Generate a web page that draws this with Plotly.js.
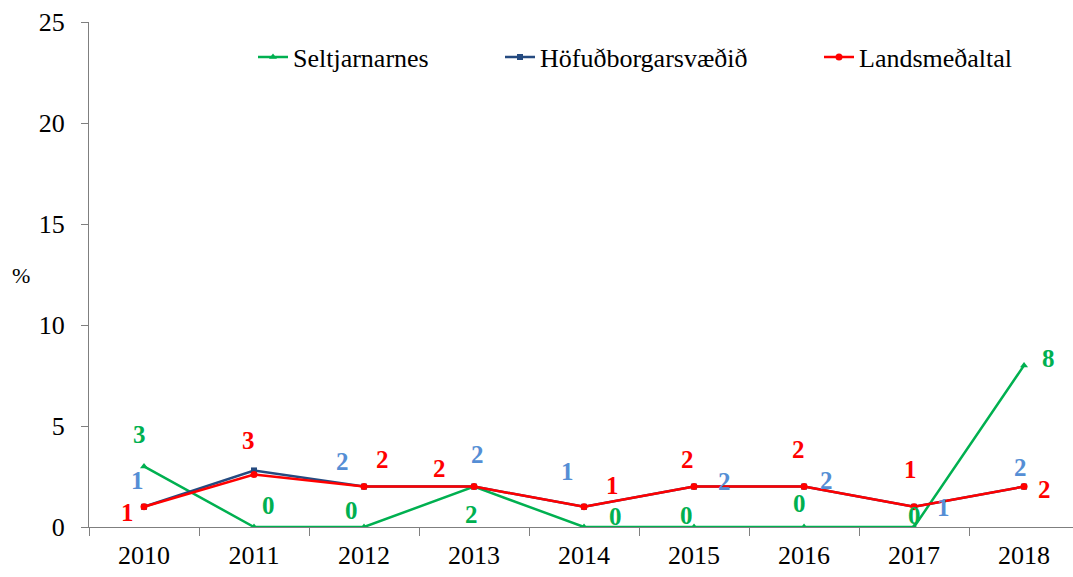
<!DOCTYPE html>
<html>
<head>
<meta charset="utf-8">
<script src="https://cdn.plot.ly/plotly-3.0.1.min.js"></script>
<style>html,body{margin:0;padding:0;background:#fff;}#chart{width:1073px;height:577px;}</style>
</head>
<body>
<div id="chart"></div>
<script>
// ---- data ----
const years = ['2010','2011','2012','2013','2014','2015','2016','2017','2018'];
const seltjarnarnes = [3, 0, 0, 2, 0, 0, 0, 0, 8];
const hofudborgarsvaedid = [1, 2.8, 2, 2, 1, 2, 2, 1, 2];
const landsmedaltal = [1, 2.6, 2, 2, 1, 2, 2, 1, 2];
const seltLabels = ['3','0','0','2','0','0','0','0','8'];
// the 2011 label of Höfuðborgarsvæðið is hidden behind Landsmeðaltal's label in the reference
const hofLabels = ['1','','2','2','1','2','2','1','2'];
const landsLabels = ['1','3','2','2','1','2','2','1','2'];
const seriesNames = ['Seltjarnarnes', 'Höfuðborgarsvæðið', 'Landsmeðaltal'];

// ---- label offsets (px) ----
const seltOff = [[-5,-32],[14,-22],[-13,-17],[-3,28],[31,-11],[-8,-12],[-5,-24],[0,-12],[24,-7]];
const hofOff  = [[-7,-26],[-6,-34],[-22,-25],[3,-32],[-17,-35],[30,-5],[22,-6],[29,1],[-4,-19]];
const landsOff= [[-17,6],[-6,-34],[18,-27],[-35,-18],[28,-21],[-7,-27],[-6,-37],[-4,-37],[20,3]];

const GREEN = '#00B050', NAVY = '#254A80', RED = '#FF0000', LBLUE = '#558ED5';
const FONT = 'Liberation Serif';

const traces = [
  {x: years, y: seltjarnarnes, name: seriesNames[0], type: 'scatter', mode: 'lines+markers',
   line: {color: GREEN, width: 2.5}, marker: {symbol: 'triangle-up', size: 7, color: GREEN}, legend: 'legend'},
  {x: years, y: hofudborgarsvaedid, name: seriesNames[1], type: 'scatter', mode: 'lines+markers',
   line: {color: NAVY, width: 2.5}, marker: {symbol: 'square', size: 6, color: NAVY}, legend: 'legend2'},
  {x: years, y: landsmedaltal, name: seriesNames[2], type: 'scatter', mode: 'lines+markers',
   line: {color: RED, width: 2.5}, marker: {symbol: 'circle', size: 7, color: RED}, legend: 'legend3'}
];

const annotations = [];
function addLabels(vals, labels, offs, color) {
  vals.forEach((v, i) => {
    if (!labels[i]) return;
    annotations.push({x: i, y: v, xref: 'x', yref: 'y', text: labels[i], showarrow: false,
      xanchor: 'center', yanchor: 'middle',
      xshift: offs[i][0], yshift: -offs[i][1],
      font: {family: FONT, size: 25, color: color, weight: 'bold'}});
  });
}
addLabels(seltjarnarnes, seltLabels, seltOff, GREEN);
addLabels(hofudborgarsvaedid, hofLabels, hofOff, LBLUE);
addLabels(landsmedaltal, landsLabels, landsOff, RED);
annotations.push({xref: 'paper', yref: 'paper', x: (21-89)/984, y: (527-275)/505, text: '%', showarrow: false,
  xanchor: 'center', yanchor: 'middle',
  font: {family: FONT, size: 22, color: '#000'}});

const legBase = {orientation: 'h', yanchor: 'middle', xanchor: 'left', y: (527-57)/505,
  font: {family: FONT, size: 26, color: '#000'}, bgcolor: 'rgba(0,0,0,0)', borderwidth: 0};

const layout = {
  width: 1073, height: 577,
  margin: {l: 89, r: 0, t: 22, b: 50, pad: 0},
  paper_bgcolor: '#fff', plot_bgcolor: '#fff',
  font: {family: FONT, size: 26, color: '#000'},
  showlegend: true,
  legend: Object.assign({}, legBase, {x: (253-89)/984}),
  legend2: Object.assign({}, legBase, {x: (500-89)/984}),
  legend3: Object.assign({}, legBase, {x: (819-89)/984}),
  xaxis: {type: 'category', range: [-0.5, 8.445], showgrid: false, zeroline: false,
    showline: true, linecolor: '#7f7f7f', linewidth: 1,
    ticks: 'outside', tickson: 'boundaries', ticklen: 8, tickcolor: '#7f7f7f',
    tickfont: {family: FONT, size: 26, color: '#000'}, ticklabelstandoff: 5, fixedrange: true},
  yaxis: {range: [0, 25], dtick: 5, tick0: 0, showgrid: false, zeroline: false,
    showline: true, linecolor: '#7f7f7f', linewidth: 1,
    ticks: 'outside', ticklen: 7, tickcolor: '#7f7f7f',
    tickfont: {family: FONT, size: 26, color: '#000'}, ticklabelstandoff: 11, fixedrange: true},
  annotations: annotations
};

Plotly.newPlot('chart', traces, layout, {displayModeBar: false, staticPlot: true});
</script>
</body>
</html>
